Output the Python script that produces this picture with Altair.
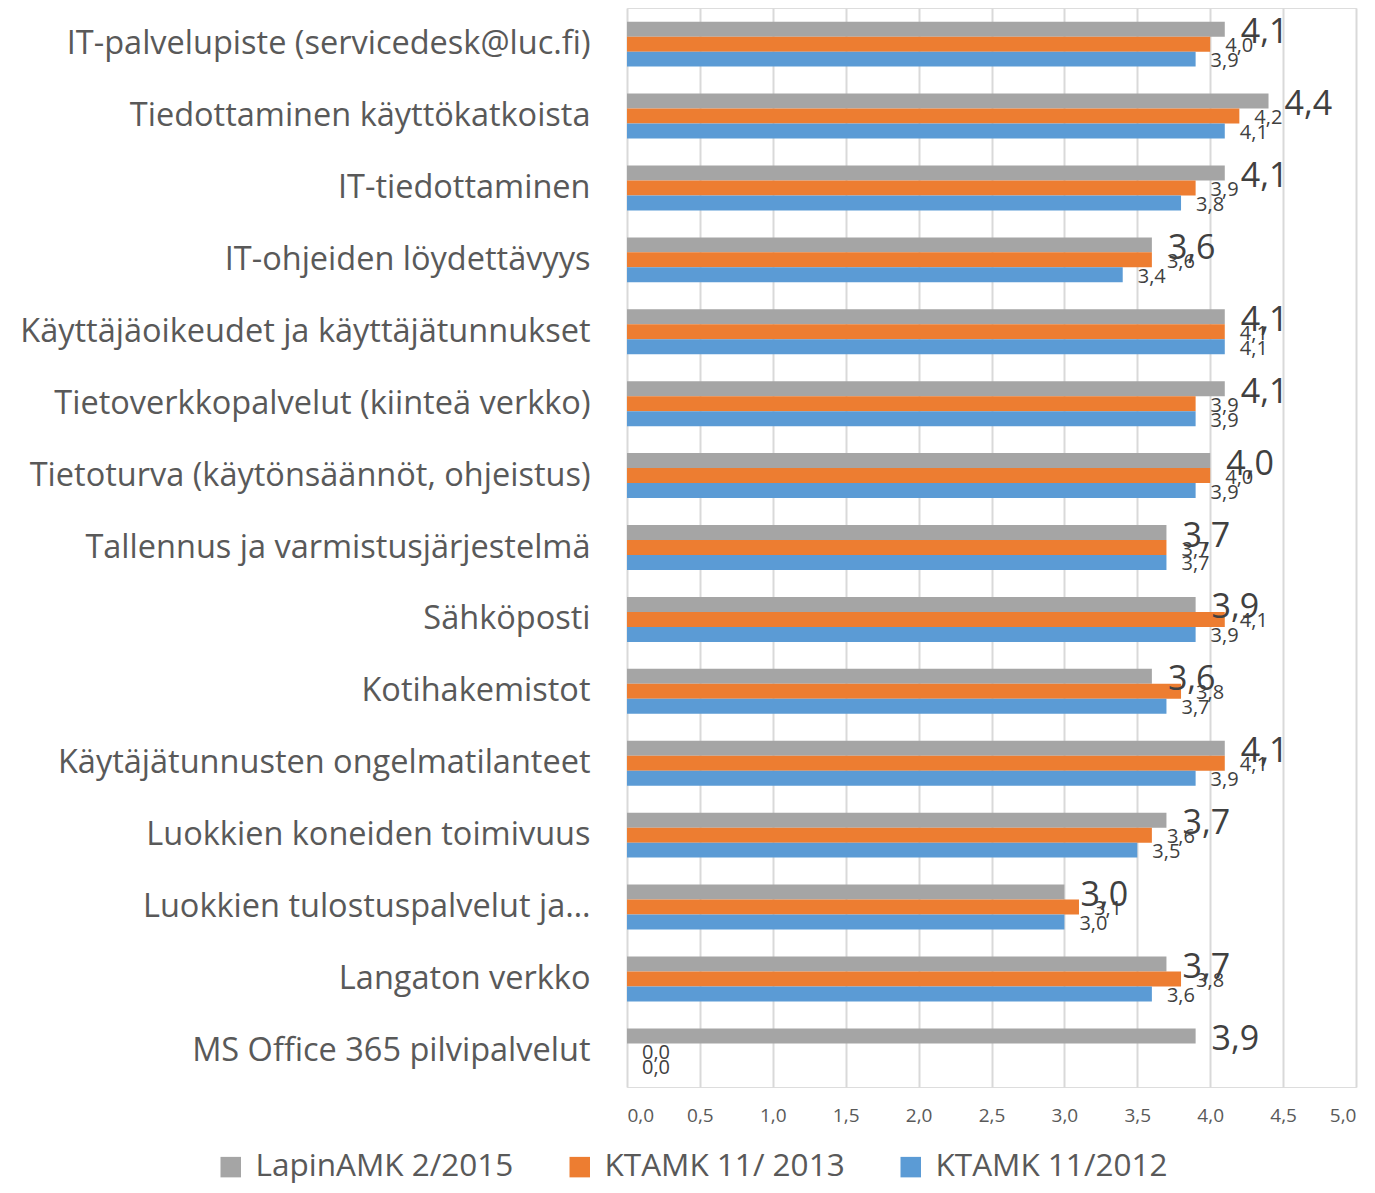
import altair as alt
import pandas as pd

categories = [
    "IT-palvelupiste (servicedesk@luc.fi)",
    "Tiedottaminen  käyttökatkoista",
    "IT-tiedottaminen",
    "IT-ohjeiden löydettävyys",
    "Käyttäjäoikeudet ja käyttäjätunnukset",
    "Tietoverkkopalvelut (kiinteä verkko)",
    "Tietoturva (käytönsäännöt, ohjeistus)",
    "Tallennus ja varmistusjärjestelmä",
    "Sähköposti",
    "Kotihakemistot",
    "Käytäjätunnusten ongelmatilanteet",
    "Luokkien koneiden toimivuus",
    "Luokkien tulostuspalvelut ja…",
    "Langaton verkko",
    "MS Office 365 pilvipalvelut",
]
series = ["LapinAMK 2/2015", "KTAMK 11/ 2013", "KTAMK 11/2012"]
colors = ["#a5a5a5", "#ed7d31", "#5b9bd5"]

lapin_2015 = [4.1, 4.4, 4.1, 3.6, 4.1, 4.1, 4.0, 3.7, 3.9, 3.6, 4.1, 3.7, 3.0, 3.7, 3.9]
ktamk_2013 = [4.0, 4.2, 3.9, 3.6, 4.1, 3.9, 4.0, 3.7, 4.1, 3.8, 4.1, 3.6, 3.1, 3.8, 0.0]
ktamk_2012 = [3.9, 4.1, 3.8, 3.4, 4.1, 3.9, 3.9, 3.7, 3.9, 3.7, 3.9, 3.5, 3.0, 3.6, 0.0]

rows = []
for s, vals in zip(series, [lapin_2015, ktamk_2013, ktamk_2012]):
    for c, v in zip(categories, vals):
        rows.append({"cat": c, "series": s, "value": v})
df = pd.DataFrame(rows)

FONT = "Open Sans"
TXT = "#595959"

base = alt.Chart(df).transform_calculate(
    lbl="replace(format(datum.value, '.1f'), '.', ',')"
).encode(
    y=alt.Y(
        "cat:N",
        sort=categories,
        title=None,
        scale=alt.Scale(paddingInner=0.375, paddingOuter=0.19),
        axis=alt.Axis(
            domain=False,
            ticks=False,
            tickSize=0,
            labelFontSize=32.5,
            labelFont=FONT,
            labelColor=TXT,
            labelPadding=37,
            labelLimit=610,
            minExtent=619,
            maxExtent=619,
        ),
    ),
    yOffset=alt.YOffset("series:N", sort=series, scale=alt.Scale(paddingInner=0, paddingOuter=0)),
)

x_enc = alt.X(
    "value:Q",
    title=None,
    scale=alt.Scale(domain=[0, 5], nice=False),
    axis=alt.Axis(
        values=[0, 0.5, 1, 1.5, 2, 2.5, 3, 3.5, 4, 4.5, 5],
        labelExpr="replace(format(datum.value, '.1f'), '.', ',')",
        domain=False,
        ticks=False,
        tickSize=0,
        grid=True,
        gridColor="#d9d9d9",
        gridWidth=2,
        labelFontSize=19,
        labelFont=FONT,
        labelColor=TXT,
        labelPadding=19,
    ),
)

bars = base.mark_bar().encode(
    x=x_enc,
    color=alt.Color(
        "series:N",
        sort=series,
        scale=alt.Scale(domain=series, range=colors),
        legend=alt.Legend(
            title=None,
            orient="none",
            direction="horizontal",
            legendX=-412,
            legendY=1143,
            symbolType="square",
            symbolSize=420,
            symbolStrokeWidth=0,
            labelFontSize=31.5,
            labelFont=FONT,
            labelColor=TXT,
            columnPadding=50,
            labelOffset=9,
            labelLimit=400,
        ),
    ),
)

big_labels = base.transform_filter(
    alt.datum.series == series[0]
).mark_text(align="left", baseline="middle", dx=16, dy=4, fontSize=34, font=FONT, color="#404040").encode(
    x="value:Q", text="lbl:N"
)

small_labels = base.transform_filter(
    alt.datum.series != series[0]
).mark_text(align="left", baseline="middle", dx=15, dy=2, fontSize=20, font=FONT, color="#404040").encode(
    x="value:Q", text="lbl:N"
)

chart = alt.layer(bars, big_labels, small_labels).properties(
    width=729,
    height=1079,
    padding={"left": 0, "top": 0, "right": 5, "bottom": 3},
).configure_view(stroke=None).configure(background="white")

chart.save("out.html", embed_options={"renderer": "svg", "actions": False})
